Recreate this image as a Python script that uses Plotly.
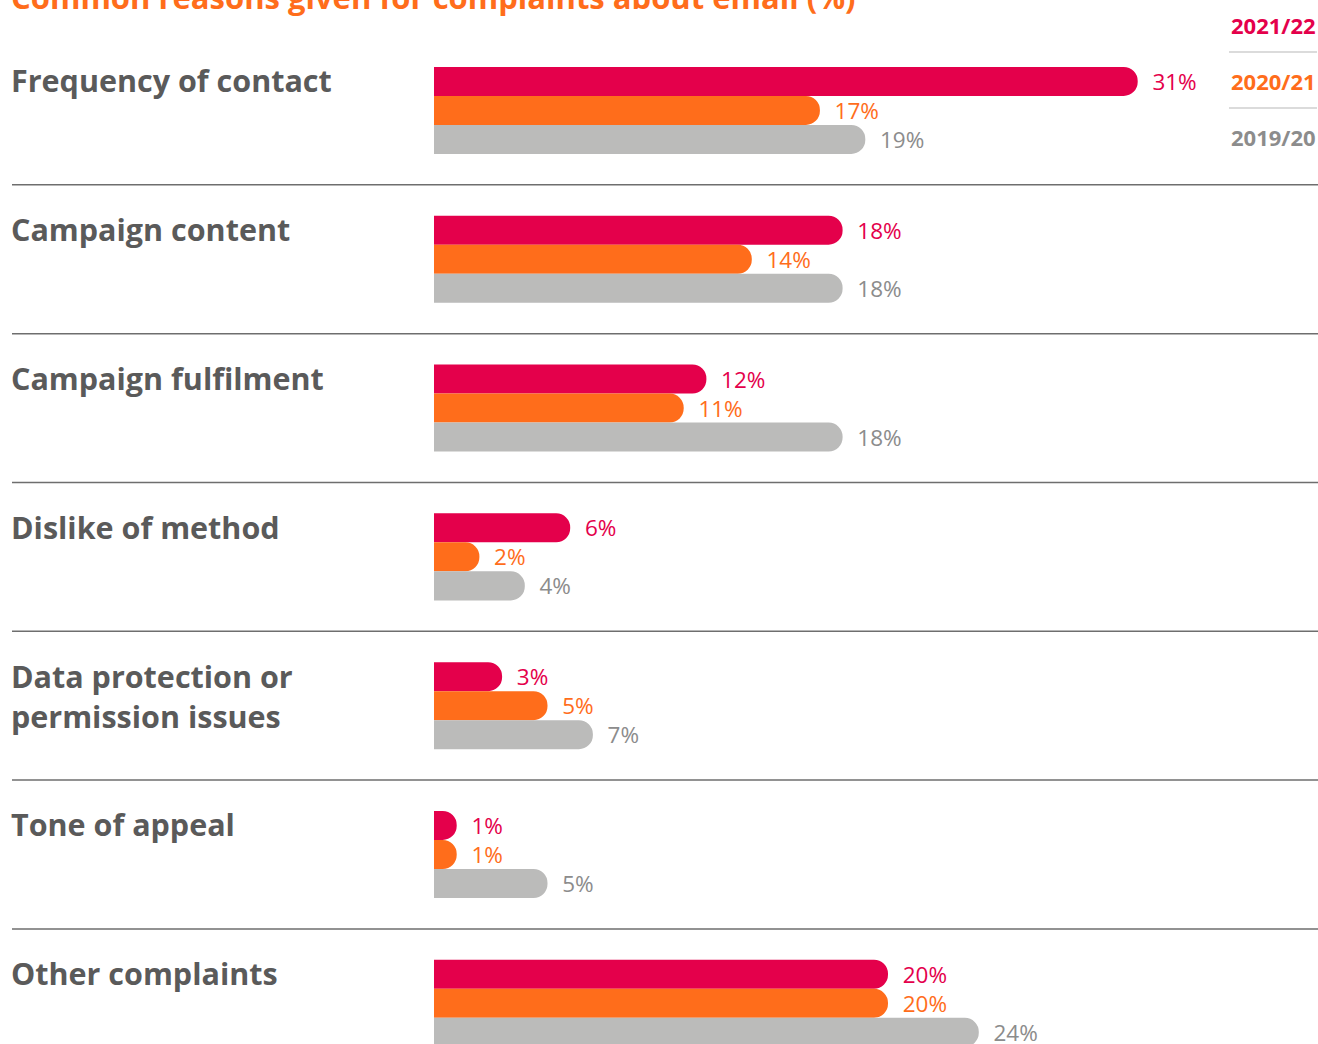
import plotly.graph_objects as go

# Complaint reasons (top to bottom) and their share per year, in %
categories = [
    "Frequency of contact",
    "Campaign content",
    "Campaign fulfilment",
    "Dislike of method",
    "Data protection or<br>permission issues",
    "Tone of appeal",
    "Other complaints",
]
years = ["2021/22", "2020/21", "2019/20"]
values_2122 = [31, 18, 12, 6, 3, 1, 20]
values_2021 = [17, 14, 11, 2, 5, 1, 20]
values_1920 = [19, 18, 18, 4, 7, 5, 24]
series = [values_2122, values_2021, values_1920]

title_text = "Common reasons given for complaints about email (%)"

bar_colors = ["#E4004B", "#FF6D1B", "#BBBBBA"]
label_colors = ["#E4004B", "#FF6D1B", "#8C8C8C"]
text_dark = "#5A5A5A"
FONT = "Open Sans"

W, H = 1318, 1044
ML, MT = 434, 36
PX_PER_PCT = 22.7

fig = go.Figure()
for name, vals, bc, lc in zip(years, series, bar_colors, label_colors):
    fig.add_trace(go.Bar(
        y=categories, x=vals, name=name, orientation="h",
        marker=dict(color=bc, line=dict(width=0)),
        text=vals, texttemplate="\u00a0\u00a0%{x}%",
        textposition="outside", constraintext="none", cliponaxis=False,
        textfont=dict(family=FONT, size=22.5, color=lc),
        hoverinfo="skip",
    ))

plot_w = W - ML
fig.update_layout(
    width=W, height=H,
    margin=dict(l=ML, r=0, t=MT, b=0, pad=0),
    paper_bgcolor="white", plot_bgcolor="white",
    barmode="group", bargap=0.415, bargroupgap=0,
    barcornerradius=14,
    showlegend=False,
    xaxis=dict(range=[0, plot_w / PX_PER_PCT], visible=False, fixedrange=True),
    yaxis=dict(range=[6.2735, -0.5], visible=False, fixedrange=True,
               categoryorder="array", categoryarray=categories),
    font=dict(family=FONT),
)

x_left = (12 - ML) / plot_w
x_text = (9 - ML) / plot_w

def paper_y(py):
    return 1 - (py - MT) / (H - MT)

annotations = []
# category labels, top-aligned with each bar group
for cat in categories:
    annotations.append(dict(
        x=x_text, xref="paper", y=cat, yref="y", yshift=53,
        xanchor="left", yanchor="top", align="left", showarrow=False,
        text=f"<b>{cat}</b>", font=dict(family=FONT, size=30.5, color=text_dark),
    ))

# title
annotations.append(dict(
    x=x_text, xref="paper", y=paper_y(-3), yref="paper",
    xanchor="left", yanchor="middle", showarrow=False,
    text=f"<b>{title_text}</b>", font=dict(family=FONT, size=31, color="#FF6D1B"),
))

# year key in the top right corner
for name, lc, py in zip(years, label_colors, [25, 81, 137]):
    annotations.append(dict(
        x=(1318 - ML) / plot_w, xref="paper", y=paper_y(py), yref="paper",
        xanchor="right", yanchor="middle", showarrow=False,
        text=f"<b>{name}</b>", font=dict(family=FONT, size=22, color=lc),
    ))
fig.update_layout(annotations=annotations)

shapes = []
# rules between category groups
for i in range(len(categories) - 1):
    shapes.append(dict(
        type="line", xref="paper", yref="y",
        x0=x_left, x1=1, y0=i + 0.5, y1=i + 0.5,
        line=dict(color="#6E6E6E", width=1.5),
    ))
# rules between the year key entries
for py in [52, 108]:
    shapes.append(dict(
        type="line", xref="paper", yref="paper",
        x0=(1229 - ML) / plot_w, x1=(1317 - ML) / plot_w,
        y0=paper_y(py), y1=paper_y(py),
        line=dict(color="#CFCFCF", width=1.5),
    ))
fig.update_layout(shapes=shapes)

fig.write_html("out.html")
